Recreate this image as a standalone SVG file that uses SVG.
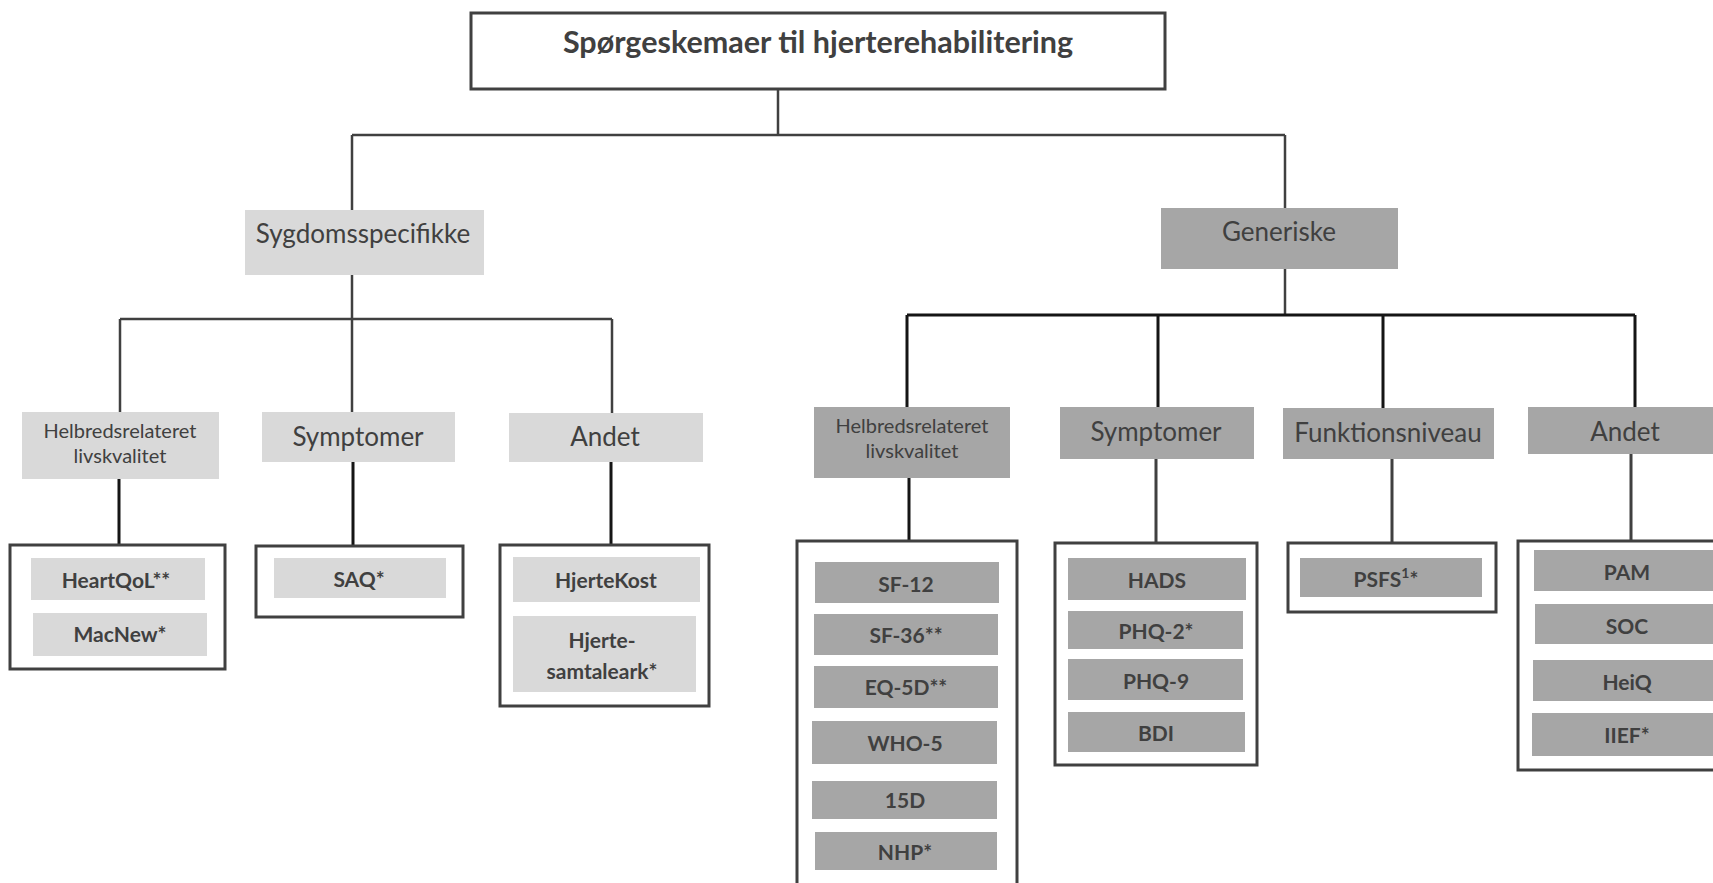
<svg xmlns="http://www.w3.org/2000/svg" width="1713" height="883" viewBox="0 0 1713 883">
<style>
.bg{fill:#ffffff}
.frame{fill:#ffffff;stroke:#404040;stroke-width:3}
.lt{fill:#d9d9d9}
.dk{fill:#a6a6a6}
.t{font-family:Lato,"Liberation Sans",sans-serif;fill:#404040;text-anchor:middle}
.title{font-size:30.5px;font-weight:bold}
.cat{font-size:26px}
.sub{font-size:20px}
.leaf{font-size:21px;font-weight:bold}
.cg{stroke:#404040;stroke-width:2.5;fill:none}
.cb{stroke:#151515;stroke-width:3;fill:none}
</style>
<rect class="bg" x="0" y="0" width="1713" height="883"/>
<g id="connectors">
<path class="cg" d="M778,89 V135 M352,135 H1285 M352,135 V210 M1285,135 V208"/>
<path class="cg" d="M352,275 V319 M120,319 H612 M120,319 V412 M352,319 V412 M612,319 V413"/>
<path class="cg" d="M1285,269 V315"/>
<path class="cb" d="M907,315 H1635 M907,315 V407 M1158,315 V407 M1383,315 V408 M1635,315 V407"/>
<path class="cb" d="M119,478 V545 M353,462 V546 M611,462 V545 M909,477 V541"/>
<path class="cg" style="stroke-width:3" d="M1156,458 V543 M1392,458 V543 M1631,454 V541"/>
</g>
<g id="title">
<rect class="frame" x="471" y="13" width="694" height="76"/>
<text class="t title" x="818" y="53">Spørgeskemaer til hjerterehabilitering</text>
</g>
<g id="sygdomsspecifikke">
<rect class="lt" x="245" y="210" width="239" height="65"/>
<text class="t cat" x="363" y="243">Sygdomsspecifikke</text>
</g>
<g id="generiske">
<rect class="dk" x="1161" y="208" width="237" height="61"/>
<text class="t cat" x="1279" y="241">Generiske</text>
</g>
<g id="s-helbred">
<rect class="lt" x="22" y="412" width="197" height="67"/>
<text class="t sub" x="120" y="438">Helbredsrelateret</text>
<text class="t sub" x="120" y="463">livskvalitet</text>
</g>
<g id="s-symptomer">
<rect class="lt" x="262" y="412" width="193" height="50"/>
<text class="t cat" x="358" y="446">Symptomer</text>
</g>
<g id="s-andet">
<rect class="lt" x="509" y="413" width="194" height="49"/>
<text class="t cat" x="605" y="446">Andet</text>
</g>
<g id="g-helbred">
<rect class="dk" x="814" y="407" width="196" height="71"/>
<text class="t sub" x="912" y="433">Helbredsrelateret</text>
<text class="t sub" x="912" y="458">livskvalitet</text>
</g>
<g id="g-symptomer">
<rect class="dk" x="1060" y="407" width="194" height="52"/>
<text class="t cat" x="1156" y="441">Symptomer</text>
</g>
<g id="g-funktionsniveau">
<rect class="dk" x="1283" y="408" width="211" height="51"/>
<text class="t cat" x="1388" y="442">Funktionsniveau</text>
</g>
<g id="g-andet">
<rect class="dk" x="1528" y="407" width="190" height="47"/>
<text class="t cat" x="1625" y="441">Andet</text>
</g>
<g id="s-helbred-list">
<rect class="frame" x="10" y="545" width="215" height="124"/>
<rect class="lt" x="31" y="558" width="174" height="42"/>
<text class="t leaf" x="116" y="588">HeartQoL**</text>
<rect class="lt" x="33" y="613" width="174" height="43"/>
<text class="t leaf" x="120" y="642">MacNew*</text>
</g>
<g id="s-symptomer-list">
<rect class="frame" x="256" y="546" width="207" height="71"/>
<rect class="lt" x="274" y="558" width="172" height="40"/>
<text class="t leaf" x="359" y="587">SAQ*</text>
</g>
<g id="s-andet-list">
<rect class="frame" x="500" y="545" width="209" height="161"/>
<rect class="lt" x="513" y="557" width="187" height="45"/>
<text class="t leaf" x="606" y="588">HjerteKost</text>
<rect class="lt" x="513" y="616" width="183" height="76"/>
<text class="t leaf" x="602" y="648">Hjerte-</text>
<text class="t leaf" x="602" y="679">samtaleark*</text>
</g>
<g id="g-helbred-list">
<rect class="frame" x="797" y="541" width="220" height="360"/>
<rect class="dk" x="815" y="562" width="184" height="41"/>
<text class="t leaf" x="906" y="592">SF-12</text>
<rect class="dk" x="814" y="614" width="184" height="41"/>
<text class="t leaf" x="906" y="643">SF-36**</text>
<rect class="dk" x="814" y="666" width="184" height="42"/>
<text class="t leaf" x="906" y="695">EQ-5D**</text>
<rect class="dk" x="812" y="721" width="185" height="43"/>
<text class="t leaf" x="905" y="751">WHO-5</text>
<rect class="dk" x="812" y="781" width="185" height="38"/>
<text class="t leaf" x="905" y="808">15D</text>
<rect class="dk" x="815" y="832" width="182" height="38"/>
<text class="t leaf" x="905" y="860">NHP*</text>
</g>
<g id="g-symptomer-list">
<rect class="frame" x="1055" y="543" width="202" height="222"/>
<rect class="dk" x="1068" y="558" width="178" height="42"/>
<text class="t leaf" x="1157" y="588">HADS</text>
<rect class="dk" x="1068" y="611" width="175" height="38"/>
<text class="t leaf" x="1156" y="639">PHQ-2*</text>
<rect class="dk" x="1068" y="659" width="175" height="41"/>
<text class="t leaf" x="1156" y="689">PHQ-9</text>
<rect class="dk" x="1068" y="712" width="177" height="40"/>
<text class="t leaf" x="1156" y="741">BDI</text>
</g>
<g id="g-funktionsniveau-list">
<rect class="frame" x="1288" y="543" width="208" height="69"/>
<rect class="dk" x="1300" y="558" width="182" height="39"/>
<text class="t leaf" x="1386" y="587">PSFS<tspan font-size="14" dy="-9">1</tspan><tspan dy="9">*</tspan></text>
</g>
<g id="g-andet-list">
<rect class="frame" x="1518" y="541" width="210" height="229"/>
<rect class="dk" x="1534" y="550" width="190" height="41"/>
<text class="t leaf" x="1627" y="580">PAM</text>
<rect class="dk" x="1535" y="604" width="190" height="40"/>
<text class="t leaf" x="1627" y="634">SOC</text>
<rect class="dk" x="1533" y="660" width="190" height="41"/>
<text class="t leaf" x="1627" y="690">HeiQ</text>
<rect class="dk" x="1532" y="713" width="190" height="43"/>
<text class="t leaf" x="1627" y="743">IIEF*</text>
</g>
</svg>
